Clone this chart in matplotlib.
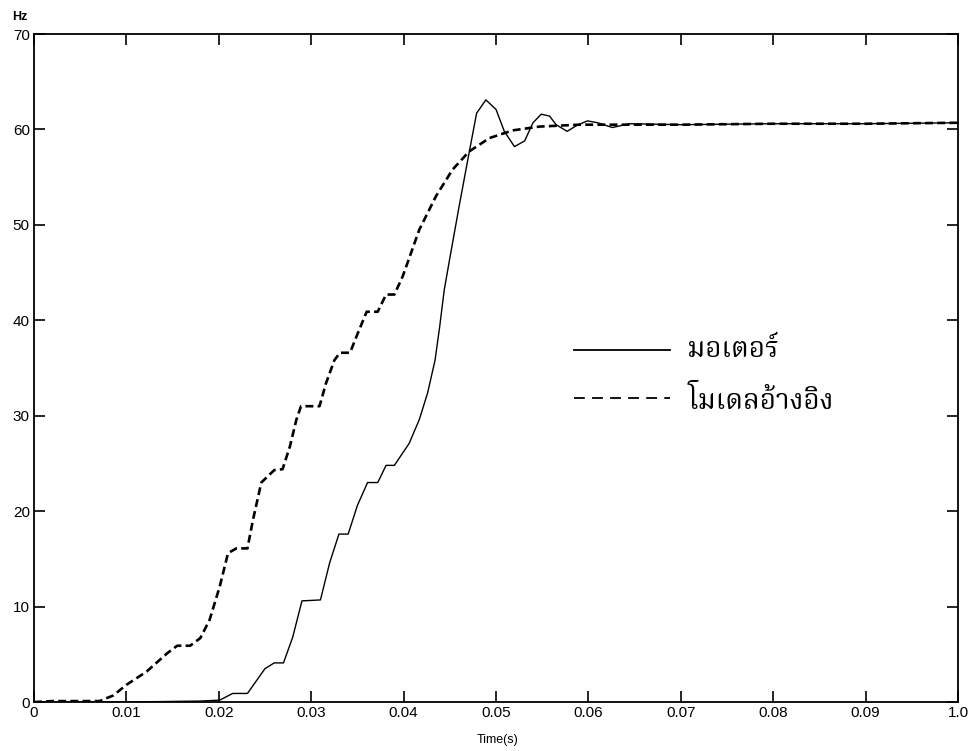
import matplotlib
matplotlib.use("Agg")
import matplotlib.pyplot as plt

# motor response (solid)
motor_t = [0, 0.010, 0.018, 0.0201, 0.0215, 0.0231, 0.025, 0.026, 0.027, 0.028,
           0.029, 0.031, 0.032, 0.033, 0.034, 0.035, 0.0361, 0.0372, 0.0381, 0.039,
           0.0406, 0.0417, 0.0426, 0.0434, 0.0439, 0.0444, 0.045, 0.046, 0.047, 0.0479,
           0.0489, 0.050, 0.0509, 0.052, 0.0531, 0.054, 0.0549, 0.0558, 0.0565, 0.0577,
           0.0587, 0.0599, 0.061, 0.0626, 0.0644, 0.07, 0.08, 0.09, 0.1]
motor_hz = [0, 0, 0.1, 0.2, 0.9, 0.9, 3.5, 4.1, 4.1, 6.8,
            10.6, 10.7, 14.6, 17.6, 17.6, 20.6, 23.0, 23.0, 24.8, 24.8,
            27.1, 29.6, 32.4, 35.8, 39.3, 43.2, 46.5, 51.9, 57.1, 61.7,
            63.1, 62.1, 59.8, 58.2, 58.8, 60.7, 61.6, 61.4, 60.5, 59.8,
            60.4, 60.9, 60.7, 60.2, 60.6, 60.5, 60.6, 60.6, 60.7]

# reference model (dashed)
ref_t = [0, 0.002, 0.0071, 0.0086, 0.010, 0.0122, 0.0144, 0.0155, 0.0169, 0.018,
         0.019, 0.0201, 0.021, 0.0219, 0.0231, 0.0237, 0.0246, 0.026, 0.0269, 0.0277,
         0.0284, 0.0289, 0.0309, 0.0316, 0.0325, 0.0331, 0.0342, 0.0349, 0.036, 0.0372,
         0.0381, 0.039, 0.0399, 0.0417, 0.0435, 0.0453, 0.0471, 0.0493, 0.0518, 0.0547,
         0.059, 0.07, 0.08, 0.09, 0.1]
ref_hz = [0, 0.1, 0.1, 0.7, 1.8, 3.2, 5.1, 5.9, 5.9, 6.7,
          8.6, 12.1, 15.6, 16.1, 16.1, 19.1, 23.0, 24.3, 24.4, 26.8,
          29.6, 31.0, 31.0, 33.4, 35.8, 36.6, 36.6, 38.3, 40.9, 40.9,
          42.7, 42.7, 44.6, 49.5, 53.0, 55.8, 57.7, 59.1, 59.9, 60.3,
          60.5, 60.5, 60.6, 60.6, 60.7]

xticks = [0, 0.01, 0.02, 0.03, 0.04, 0.05, 0.06, 0.07, 0.08, 0.09, 0.1]
xtick_labels = ["0", "0.01", "0.02", "0.03", "0.04", "0.05", "0.06", "0.07", "0.08", "0.09", "1.0"]
yticks = [0, 10, 20, 30, 40, 50, 60, 70]

legend_labels = ["มอเตอร์", "โมเดลอ้างอิง"]
thai_fonts = ["Noto Serif Thai", "Norasi", "Noto Sans Thai", "Loma", "Garuda",
              "Tlwg Typo", "DejaVu Sans"]

plt.rcParams["font.family"] = ["Liberation Sans", "DejaVu Sans"]

fig = plt.figure(figsize=(9.74, 7.51), dpi=100)
ax = fig.add_axes([0.0349, 0.0652, 0.9487, 0.8895])

ax.plot(motor_t, motor_hz, color="black", lw=1.0)
ax.plot(ref_t, ref_hz, color="black", lw=1.9, ls=(0, (3, 1.6)))

ax.set_xlim(0, 0.1)
ax.set_ylim(0, 70)
ax.set_xticks(xticks)
ax.set_xticklabels(xtick_labels)
ax.set_yticks(yticks)
ax.tick_params(direction="in", length=8, width=1.2, top=True, right=True,
               labelsize=11, pad=3)
for s in ax.spines.values():
    s.set_linewidth(1.3)

# hand-made legend like the original
ax.plot([0.0584, 0.0688], [36.9, 36.9], color="black", lw=1.3)
ax.plot([0.0584, 0.0688], [31.9, 31.9], color="black", lw=1.3, ls=(0, (6, 4)))
ax.text(0.0707, 36.9, legend_labels[0], fontsize=20, family=thai_fonts, va="center")
ax.text(0.0707, 31.5, legend_labels[1], fontsize=20, family=thai_fonts, va="center")

fig.text(0.012, 0.977, "Hz", fontsize=9, fontweight="bold", va="center")
fig.text(0.511, 0.015, "Time(s)", fontsize=9, ha="center", va="center")

fig.savefig("out.png", dpi=100)
